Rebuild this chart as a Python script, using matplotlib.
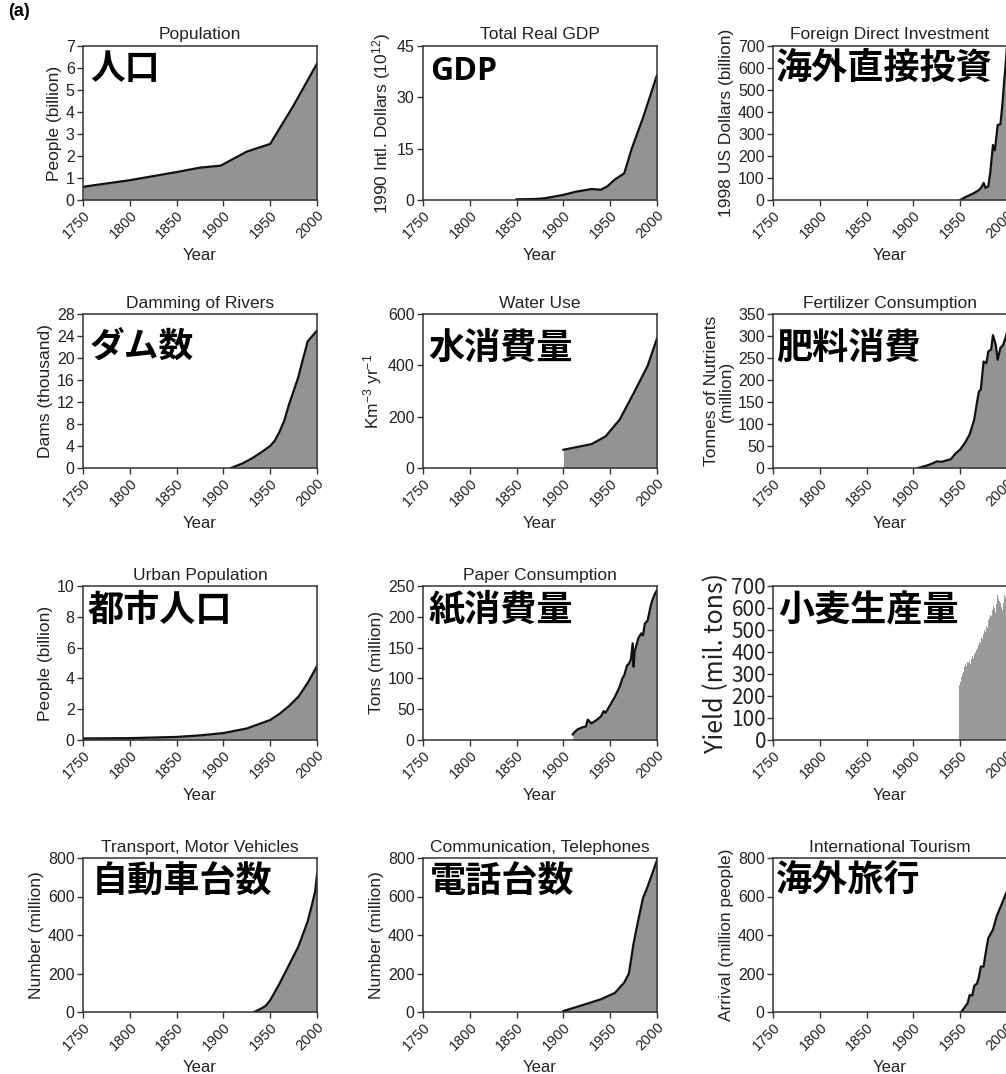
import matplotlib
matplotlib.use('Agg')
import matplotlib.pyplot as plt

plt.rcParams['font.family'] = ['Liberation Sans', 'Noto Sans CJK JP', 'DejaVu Sans']
plt.rcParams['mathtext.fontset'] = 'custom'
plt.rcParams['mathtext.rm'] = 'Liberation Sans'
plt.rcParams['mathtext.it'] = 'Liberation Sans'

# ---------------- data ----------------
pop_years = [1750, 1800, 1850, 1875, 1897, 1925, 1950, 1975, 2000]
pop_vals = [0.6, 0.9, 1.27, 1.47, 1.56, 2.2, 2.55, 4.3, 6.2]

gdp_years = [1850, 1870, 1880, 1900, 1913, 1930, 1940, 1947, 1955, 1965, 1973, 1985, 2000]
gdp_vals = [0.2, 0.3, 0.5, 1.5, 2.4, 3.2, 3.0, 4.0, 6.0, 7.8, 15.0, 24.0, 36.5]

fdi_years = [1950, 1955, 1960, 1965, 1970, 1973, 1975, 1977, 1980, 1982, 1985, 1987, 1989, 1990,
             1993, 1995, 1997, 1999, 2000]
fdi_vals = [0, 12, 22, 32, 45, 60, 78, 55, 62, 120, 250, 225, 300, 340, 345, 430, 540, 640, 700]

dam_years = [1908, 1920, 1930, 1940, 1950, 1955, 1960, 1965, 1970, 1975, 1980, 1985, 1990, 1995, 2000]
dam_vals = [0, 0.8, 1.7, 2.8, 4.0, 5.0, 6.6, 8.6, 11.5, 14.0, 16.5, 19.8, 23.0, 24.0, 25.0]

water_years = [1900, 1930, 1945, 1960, 1975, 1990, 2000]
water_vals = [71, 93, 123, 188, 291, 398, 505]

fert_years = [1905, 1915, 1920, 1925, 1930, 1935, 1940, 1945, 1950, 1955, 1960, 1965, 1968, 1970,
              1972, 1975, 1978, 1980, 1983, 1985, 1988, 1990, 1993, 1996, 2000]
fert_vals = [0, 6, 10, 15, 14, 17, 20, 33, 42, 57, 76, 110, 150, 174, 178, 242, 238, 265, 269, 302,
             280, 246, 273, 280, 307]

urban_years = [1750, 1800, 1850, 1875, 1900, 1925, 1950, 1960, 1970, 1980, 1990, 2000]
urban_vals = [0.1, 0.12, 0.2, 0.3, 0.45, 0.75, 1.3, 1.7, 2.2, 2.8, 3.7, 4.8]

paper_years = [1910, 1912, 1915, 1920, 1924, 1926, 1930, 1935, 1940, 1943, 1945, 1950, 1955, 1960,
               1963, 1965, 1968, 1970, 1972, 1974, 1975, 1976, 1980, 1983, 1985, 1987, 1990, 1993,
               1995, 1998, 2000]
paper_vals = [9, 13, 17, 20.5, 22, 33, 27, 32, 38, 47, 44, 57, 70, 86, 100, 105, 121, 124, 130, 157,
              119, 143, 165, 173, 170, 189, 194, 216, 227, 238, 243]

wheat_years = list(range(1949, 2001))
wheat_vals = [250, 265, 285, 300, 320, 310, 330, 345, 335, 355, 350, 360, 345, 370, 380, 375, 390,
              400, 410, 420, 415, 430, 445, 440, 470, 460, 480, 500, 490, 520, 510, 545, 555, 570,
              565, 595, 590, 610, 600, 580, 620, 660, 640, 630, 625, 605, 590, 625, 660, 650, 640,
              645]

car_years = [1933, 1940, 1945, 1950, 1960, 1970, 1980, 1990, 1995, 1998, 2000]
car_vals = [0, 17, 31, 61, 148, 243, 339, 470, 565, 626, 713]

tel_years = [1900, 1920, 1940, 1955, 1965, 1970, 1975, 1980, 1985, 1990, 2000]
tel_vals = [5, 35, 66, 99, 153, 200, 357, 478, 591, 652, 788]

tour_years = [1951, 1955, 1958, 1960, 1963, 1965, 1968, 1970, 1972, 1975, 1977, 1980, 1985, 1989,
              1995, 2000]
tour_vals = [0, 26, 47, 87, 87, 136, 148, 183, 236, 236, 300, 384, 428, 498, 568, 629]

titles = ['Population', 'Total Real GDP', 'Foreign Direct Investment',
          'Damming of Rivers', 'Water Use', 'Fertilizer Consumption',
          'Urban Population', 'Paper Consumption', '',
          'Transport, Motor Vehicles', 'Communication, Telephones', 'International Tourism']
ylabels = ['People (billion)', '1990 Intl. Dollars (10$^{12}$)', '1998 US Dollars (billion)',
           'Dams (thousand)', 'Km$^{-3}$ yr$^{-1}$', 'Tonnes of Nutrients\n(million)',
           'People (billion)', 'Tons (million)', 'Yield (mil. tons)',
           'Number (million)', 'Number (million)', 'Arrival (million people)']
jp_labels = ['人口', 'GDP', '海外直接投資', 'ダム数', '水消費量', '肥料消費',
             '都市人口', '紙消費量', '小麦生産量', '自動車台数', '電話台数', '海外旅行']
yticks_list = [list(range(0, 8)), [0, 15, 30, 45], list(range(0, 701, 100)),
               list(range(0, 29, 4)), [0, 200, 400, 600], list(range(0, 351, 50)),
               list(range(0, 11, 2)), list(range(0, 251, 50)), list(range(0, 701, 100)),
               [0, 200, 400, 600, 800], [0, 200, 400, 600, 800], [0, 200, 400, 600, 800]]
xticks = [1750, 1800, 1850, 1900, 1950, 2000]

series = [(pop_years, pop_vals), (gdp_years, gdp_vals), (fdi_years, fdi_vals),
          (dam_years, dam_vals), (water_years, water_vals), (fert_years, fert_vals),
          (urban_years, urban_vals), (paper_years, paper_vals), (wheat_years, wheat_vals),
          (car_years, car_vals), (tel_years, tel_vals), (tour_years, tour_vals)]

# ---------------- layout ----------------
W, H = 1006, 1074
col_left = [83, 423, 773]
row_bottom = [200, 468, 740, 1012]
ax_w, ax_h = 234, 154
title_pad = [5, 4, 4, 4]
# label anchor inside each panel (left offset px, centre offset px from top)
jp_pos = [(7, 23), (7, 26), (3, 22), (7, 33), (5, 34), (3, 34),
          (5, 24), (5, 24), (5, 25), (9, 24), (7, 24), (3, 22)]
jp_size = [25, 23, 26, 25, 26, 26, 26, 26, 26, 26, 26, 26]

fig = plt.figure(figsize=(W / 100, H / 100), dpi=100)
fig.patch.set_facecolor('white')

TXT = '#222222'
for i, ((xs, ys), title, ylab, jp, yt) in enumerate(zip(series, titles, ylabels, jp_labels, yticks_list)):
    r, c = divmod(i, 3)
    ax = fig.add_axes([col_left[c] / W, 1 - row_bottom[r] / H, ax_w / W, ax_h / H])
    wheat = (i == 8)
    if wheat:
        ax.fill_between(xs, ys, 0, step='mid', color='#9a9a9a', linewidth=0)
    else:
        ax.fill_between(xs, ys, 0, color='#939393', linewidth=0)
        ax.plot(xs, ys, color='#111111', linewidth=1.6, solid_joinstyle='round')
    ax.set_xlim(1750, 2000)
    ax.set_ylim(yt[0], yt[-1])
    ax.set_xticks(xticks)
    ax.set_yticks(yt)
    ax.set_xticklabels([str(t) for t in xticks], rotation=45, ha='right', va='top',
                       rotation_mode='anchor', fontsize=10.5, color=TXT)
    ax.tick_params(direction='out', length=4, width=1, color='#333333', pad=2)
    if wheat:
        ax.set_yticklabels([str(t) for t in yt], fontsize=15, color=TXT,
                           family=['Noto Sans CJK JP'])
        ax.set_ylabel(ylab, fontsize=18, color=TXT, family=['Noto Sans CJK JP'], labelpad=2)
        ax.tick_params(axis='y', pad=1)
    else:
        ax.set_yticklabels([str(t) for t in yt], fontsize=11.5, color=TXT)
        ax.set_ylabel(ylab, fontsize=12.5, color=TXT, labelpad=3, linespacing=1.0)
    ax.set_xlabel('Year', fontsize=12, color=TXT, labelpad=4.5)
    if title:
        ax.set_title(title, fontsize=12.5, color=TXT, pad=title_pad[r])
    for s in ax.spines.values():
        s.set_linewidth(1.1)
        s.set_color('#333333')
    dx, dy = jp_pos[i]
    fam = ['Open Sans', 'Noto Sans CJK JP'] if jp == 'GDP' else ['Noto Sans CJK JP']
    ax.text(dx / ax_w, 1 - dy / ax_h, jp, transform=ax.transAxes, fontsize=jp_size[i],
            fontweight='bold', family=fam, color='black', ha='left', va='center')

fig.text(8 / W, 1 - 12 / H, '(a)', fontsize=13, fontweight='bold', ha='left', va='center')

fig.savefig('out.png', dpi=100, facecolor='white')
